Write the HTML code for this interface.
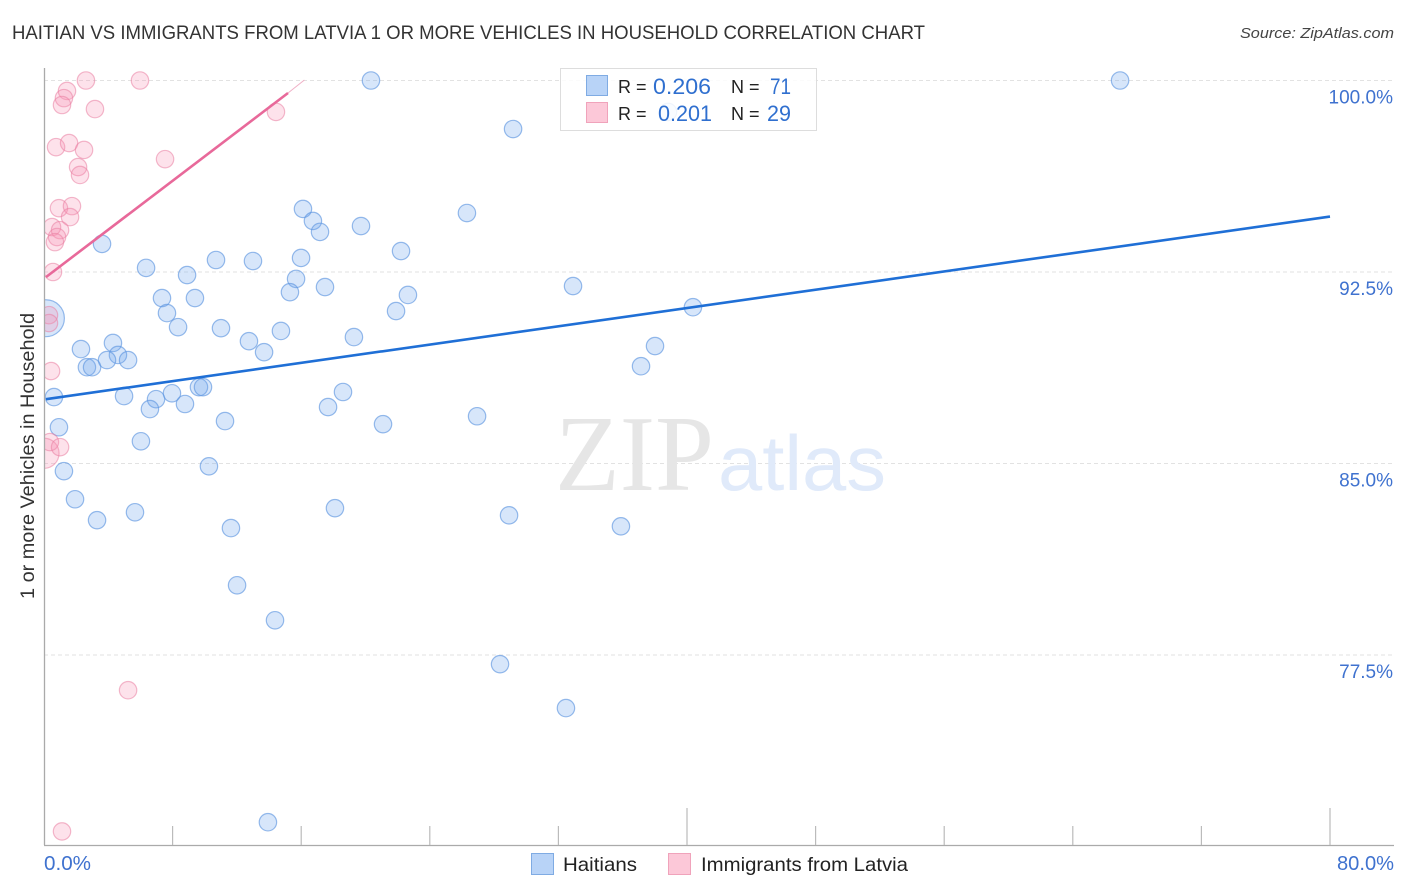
<!DOCTYPE html>
<html lang="en">
<head>
<meta charset="utf-8">
<title>Haitian vs Immigrants from Latvia correlation chart</title>
<style>
html,body{margin:0;padding:0;background:#fff;width:1406px;height:892px;overflow:hidden}
svg{display:block;font-family:"Liberation Sans",sans-serif}
</style>
</head>
<body>
<svg id="chart" width="1406" height="892" viewBox="0 0 1406 892" xmlns="http://www.w3.org/2000/svg">
  <defs>
    <clipPath id="plot-clip"><rect x="45" y="60" width="1350" height="785"/></clipPath>
  </defs>
  <text x="12" y="39" font-size="19" fill="#333" textLength="913" lengthAdjust="spacingAndGlyphs">HAITIAN VS IMMIGRANTS FROM LATVIA 1 OR MORE VEHICLES IN HOUSEHOLD CORRELATION CHART</text>
  <text x="1394" y="38" font-size="15" font-style="italic" fill="#444" text-anchor="end" textLength="154" lengthAdjust="spacingAndGlyphs">Source: ZipAtlas.com</text>
  <g id="grid"></g>
  <g>
    <text x="555" y="490" font-family="'Liberation Serif',serif" font-size="108" fill="#e6e6e6" textLength="159" lengthAdjust="spacingAndGlyphs">ZIP</text>
    <text x="718" y="490" font-size="78" fill="#e0eafa" textLength="168" lengthAdjust="spacingAndGlyphs">atlas</text>
  </g>
  <g id="points" clip-path="url(#plot-clip)"></g>
  <g id="lines"></g>
  <g id="axes"></g>
  <text transform="translate(34,456) rotate(-90)" font-size="19" fill="#333" text-anchor="middle" textLength="286" lengthAdjust="spacingAndGlyphs">1 or more Vehicles in Household</text>
  <g>
    <rect x="560.5" y="68.5" width="256" height="62" fill="#fff" fill-opacity="0.85" stroke="#ddd" stroke-width="1"/>
    <rect x="586.5" y="75.5" width="21" height="20" fill="#b8d3f7" stroke="#7fabe3"/>
    <rect x="586.5" y="102.5" width="21" height="20" fill="#fcc8d8" stroke="#f0a3bb"/>
    <text x="618" y="93" font-size="18" fill="#222">R =</text>
    <text x="653" y="94" font-size="22" fill="#2f6fcf" textLength="58" lengthAdjust="spacingAndGlyphs">0.206</text>
    <text x="731" y="93" font-size="18" fill="#222">N =</text>
    <text x="770" y="94" font-size="22" fill="#2f6fcf" textLength="21" lengthAdjust="spacingAndGlyphs">71</text>
    <text x="618" y="120" font-size="18" fill="#222">R =</text>
    <text x="658" y="121" font-size="22" fill="#2f6fcf" textLength="54" lengthAdjust="spacingAndGlyphs">0.201</text>
    <text x="731" y="120" font-size="18" fill="#222">N =</text>
    <text x="767" y="121" font-size="22" fill="#2f6fcf" textLength="24" lengthAdjust="spacingAndGlyphs">29</text>
  </g>
  <g>
    <rect x="531.5" y="853.5" width="22" height="21" fill="#b8d3f7" stroke="#7fabe3"/>
    <text x="563" y="871" font-size="19.5" fill="#222" textLength="74" lengthAdjust="spacingAndGlyphs">Haitians</text>
    <rect x="668.5" y="853.5" width="22" height="21" fill="#fcc8d8" stroke="#f0a3bb"/>
    <text x="701" y="871" font-size="19.5" fill="#222" textLength="207" lengthAdjust="spacingAndGlyphs">Immigrants from Latvia</text>
  </g>
</svg>
<script>
const yTicks = [100, 92.5, 85, 77.5];
const yTickLabels = ["100.0%", "92.5%", "85.0%", "77.5%"];
const xTicks = [0, 8, 16, 24, 32, 40, 48, 56, 64, 72, 80];
const xMajorTicks = [40, 80];
const xEndLabels = ["0.0%", "80.0%"];

const haitiansX = [20.34,66.94,29.18,26.31,16.11,16.73,17.17,19.72,3.61,22.21,15.99,10.70,13.00,6.35,8.90,15.68,15.30,17.48,32.91,22.64,7.34,9.39,21.90,40.37,7.65,8.34,11.01,14.74,19.28,12.75,13.69,38.01,37.14,2.30,4.29,4.60,3.92,5.23,2.67,2.99,0.62,4.98,6.97,7.96,6.59,8.77,9.64,9.89,18.60,17.67,26.94,11.26,21.09,0.93,6.03,10.26,1.24,1.93,3.30,5.66,18.10,28.93,35.89,11.63,12.01,14.37,28.37,32.47,13.93,38.82];
const haitiansY = [100,100,98.10,94.81,94.97,94.50,94.07,94.30,93.60,93.32,93.05,92.97,92.93,92.66,92.38,92.23,91.71,91.91,91.95,91.60,91.48,91.48,90.97,91.12,90.89,90.34,90.30,90.19,89.95,89.79,89.36,89.60,88.81,89.48,89.72,89.25,89.05,89.05,88.77,88.77,87.60,87.64,87.52,87.75,87.13,87.33,87.99,87.99,87.80,87.21,86.85,86.66,86.54,86.42,85.87,84.89,84.70,83.60,82.78,83.09,83.25,82.97,82.54,82.47,80.23,78.86,77.14,75.42,70.95,98.77];
const haitiansLargeX = [0.12];
const haitiansLargeY = [90.69];
const haitiansLargeWeight = [4.5];

const latviaX = [2.61,5.97,1.43,1.24,1.12,3.17,14.43,0.75,1.56,2.49,7.53,2.12,2.24,0.93,1.74,1.62,0.50,1.00,0.81,0.68,0.56,0.31,0.31,0.44,0.37,1.00,5.23,1.12];
const latviaY = [100,100,99.59,99.31,99.04,98.88,98.77,97.39,97.55,97.28,96.92,96.61,96.30,95.00,95.08,94.65,94.26,94.14,93.87,93.67,92.50,90.81,90.50,88.62,85.84,85.64,76.12,70.59];
const latviaLargeX = [0];
const latviaLargeY = [85.40];
const latviaLargeWeight = [3];

const haitiansTrendX = [0.12, 80];
const haitiansTrendY = [87.52, 94.67];
const latviaTrendX = [0.12, 15.18];
const latviaTrendY = [92.30, 99.51];
const latviaTrendFadeX = [15.18, 16.2];
const latviaTrendFadeY = [99.51, 100.02];

const NS = "http://www.w3.org/2000/svg";
const xPos = v => 44 + v * 16.075;
const yPos = v => 80.5 + (100 - v) * 25.533;
const baseRadius = 8.7;

function make(tag, attrs, parent) {
  const el = document.createElementNS(NS, tag);
  for (const k in attrs) el.setAttribute(k, attrs[k]);
  parent.appendChild(el);
  return el;
}

const grid = document.getElementById("grid");
const axes = document.getElementById("axes");
const points = document.getElementById("points");
const lines = document.getElementById("lines");

yTicks.forEach((t, i) => {
  const ln = make("line", {x1: 44, x2: 1394, y1: yPos(t), y2: yPos(t), stroke: "#e2e2e2", "stroke-width": 1, "stroke-dasharray": "4 3"}, grid);
  
  
  const tx = make("text", {x: 1393, y: yPos(t) + 23, "font-size": 19, fill: "#3f72cf", "text-anchor": "end"}, axes);
  
  
  tx.textContent = yTickLabels[i];
});

const yAxis = make("line", {x1: 44.5, x2: 44.5, y1: 68, y2: 845, stroke: "#aaa", "stroke-width": 1.3}, axes);


const xAxis = make("line", {x1: 44, x2: 1394, y1: 845.5, y2: 845.5, stroke: "#aaa", "stroke-width": 1.3}, axes);



xTicks.forEach(t => {
  if (t === 0) return;
  const top = xMajorTicks.includes(t) ? 808 : 826;
  const tk = make("line", {x1: xPos(t), x2: xPos(t), y1: top, y2: 845, stroke: "#bbb", "stroke-width": 1.2}, axes);
  
  
});

const xLabelLeft = make("text", {x: 44, y: 870, "font-size": 20, fill: "#3f72cf", textLength: 47, lengthAdjust: "spacingAndGlyphs"}, axes);


xLabelLeft.textContent = xEndLabels[0];
const xLabelRight = make("text", {x: 1394, y: 870, "font-size": 20, fill: "#3f72cf", "text-anchor": "end", textLength: 57, lengthAdjust: "spacingAndGlyphs"}, axes);


xLabelRight.textContent = xEndLabels[1];

const blueStyle = {fill: "#6ea6ee", "fill-opacity": 0.28, stroke: "#5f97e0", "stroke-opacity": 0.65, "stroke-width": 1.2};
const pinkStyle = {fill: "#f890b0", "fill-opacity": 0.26, stroke: "#ea7fa2", "stroke-opacity": 0.55, "stroke-width": 1.2};

function drawDot(x, y, weight, style, name) {
  const c = make("circle", Object.assign({cx: xPos(x), cy: yPos(y), r: baseRadius * Math.sqrt(weight) }, style), points);
  
  
}

haitiansLargeX.forEach((x, i) => drawDot(x, haitiansLargeY[i], haitiansLargeWeight[i], blueStyle, 'haitians-point-large'));
haitiansX.forEach((x, i) => drawDot(x, haitiansY[i], 1, blueStyle, 'haitians-point'));
latviaLargeX.forEach((x, i) => drawDot(x, latviaLargeY[i], latviaLargeWeight[i], pinkStyle, 'latvia-point-large'));
latviaX.forEach((x, i) => drawDot(x, latviaY[i], 1, pinkStyle, 'latvia-point'));

const blueLine = make("line", {x1: xPos(haitiansTrendX[0]), y1: yPos(haitiansTrendY[0]), x2: xPos(haitiansTrendX[1]), y2: yPos(haitiansTrendY[1]), stroke: "#1f6fd6", "stroke-width": 2.6}, lines);


const pinkLine = make("line", {x1: xPos(latviaTrendX[0]), y1: yPos(latviaTrendY[0]), x2: xPos(latviaTrendX[1]), y2: yPos(latviaTrendY[1]), stroke: "#e8699a", "stroke-width": 2.6}, lines);


const pinkFade = make("line", {x1: xPos(latviaTrendFadeX[0]), y1: yPos(latviaTrendFadeY[0]), x2: xPos(latviaTrendFadeX[1]), y2: yPos(latviaTrendFadeY[1]), stroke: "#f0b0c6", "stroke-width": 1}, lines);


</script>
</body>
</html>
